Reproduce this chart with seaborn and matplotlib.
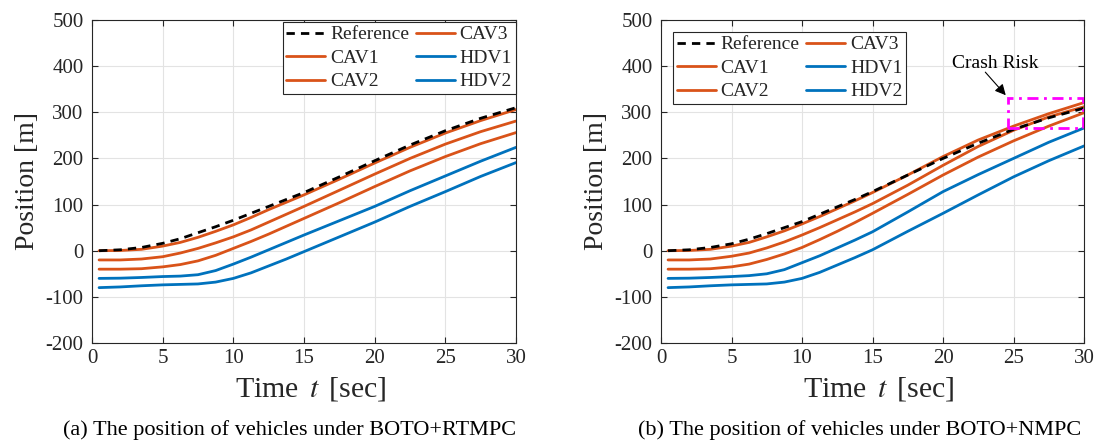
import numpy as np
import pandas as pd
import matplotlib
matplotlib.use("Agg")
import matplotlib.pyplot as plt
import seaborn as sns
from matplotlib.patches import Rectangle

# ---------------- data ----------------
time = [0.5, 2, 3.5, 5, 6.25, 7.5, 8.75, 10, 11.25, 12.5, 13.75, 15,
        17.5, 20, 22.5, 25, 27.5, 30]

# (a) BOTO+RTMPC
a_ref  = [0, 2, 7, 16, 26, 39, 52, 66, 81, 96, 111, 126, 160, 195, 229, 260, 287, 310]
a_cav1 = [0, 0.5, 3, 10, 18, 29, 42, 56, 72, 89, 105, 121, 155, 190, 224, 255, 282, 306]
a_cav2 = [-20, -20, -18, -13, -5, 5, 17, 30, 45, 62, 79, 96, 131, 166, 200, 231, 258, 281]
a_cav3 = [-40, -40, -39, -35, -30, -22, -10, 5, 20, 36, 53, 70, 104, 139, 173, 204, 232, 256]
a_hdv1 = [-60, -59.5, -58, -56, -55, -52, -43, -29, -14, 2, 18, 34, 65, 96, 130, 162, 194, 224]
a_hdv2 = [-80, -78.5, -76, -74, -73, -72, -68, -60, -48, -33, -18, -2, 30, 62, 96, 128, 161, 191]

# (b) BOTO+NMPC
b_ref  = [0, 2, 7, 15, 25, 37, 50, 63, 79, 95, 111, 128, 164, 200, 233, 263, 288, 309]
b_cav1 = [0, 0.5, 3, 10, 18, 30, 43, 58, 74, 91, 108, 126, 164, 204, 240, 270, 297, 321]
b_cav2 = [-20, -20, -18, -12, -5, 6, 19, 34, 50, 67, 84, 102, 142, 185, 226, 261, 290, 312]
b_cav3 = [-40, -40, -39, -35, -29, -19, -7, 7, 24, 42, 61, 81, 122, 164, 203, 238, 270, 299]
b_hdv1 = [-60, -59.5, -58, -56, -54, -50, -41, -26, -11, 6, 23, 41, 84, 128, 165, 200, 235, 266]
b_hdv2 = [-80, -78.5, -76, -74, -73, -72, -68, -60, -47, -31, -15, 2, 42, 81, 121, 160, 195, 227]

labels = ["Reference", "CAV1", "CAV2", "CAV3", "HDV1", "HDV2"]
captions = ["(a) The position of vehicles under BOTO+RTMPC",
            "(b) The position of vehicles under BOTO+NMPC"]
xticks = [0, 5, 10, 15, 20, 25, 30]
yticks = [-200, -100, 0, 100, 200, 300, 400, 500]

# crash-risk box and annotation (data coords)
risk_x = [24.6, 29.9]
risk_y = [265, 330]
risk_text = "Crash Risk"
risk_text_xy = (23.7, 405)
risk_arrow_from = (23.0, 387)
risk_arrow_to = (24.45, 337)

# ---------------- style ----------------
sns.set_theme(style="whitegrid")
plt.rcParams['font.family'] = ['Liberation Serif', 'DejaVu Serif']
plt.rcParams['mathtext.fontset'] = 'stix'
plt.rcParams['axes.unicode_minus'] = False

ORANGE = "#D95319"
BLUE = "#0072BD"
AXC = "#262626"
colors = ["black", ORANGE, ORANGE, ORANGE, BLUE, BLUE]

fig = plt.figure(figsize=(10.96, 4.41), dpi=100)
ax1 = fig.add_axes([92/1096, (441-343)/441, 424/1096, 323/441])
ax2 = fig.add_axes([661/1096, (441-343)/441, 423/1096, 323/441])

panels = [
    (ax1, [a_ref, a_cav1, a_cav2, a_cav3, a_hdv1, a_hdv2]),
    (ax2, [b_ref, b_cav1, b_cav2, b_cav3, b_hdv1, b_hdv2]),
]

for ax, series in panels:
    order = [1, 2, 3, 4, 5, 0]   # Reference drawn last (on top)
    handles = {}
    for i in order:
        df = pd.DataFrame({"t": time, "pos": series[i]})
        sns.lineplot(data=df, x="t", y="pos", ax=ax, color=colors[i],
                     linewidth=2.0, estimator=None, sort=False)
        ln = ax.get_lines()[-1]
        ln.set_solid_joinstyle("round")
        if i == 0:
            ln.set_dashes([3, 2.2])
        handles[i] = ln
    ax.set_xlim(0, 30)
    ax.set_ylim(-200, 500)
    ax.set_xticks(xticks)
    ax.set_yticks(yticks)
    ax.set_xlabel("Time $\\,t\\,$ [sec]", fontsize=21.5, color=AXC, labelpad=0)
    ax.xaxis.set_label_coords(0.515, -0.098)
    ax.set_ylabel("Position [m]", fontsize=20, color=AXC, labelpad=4)
    ax.tick_params(axis="both", which="both", direction="in", length=4,
                   width=0.8, colors=AXC, labelsize=15, top=True, right=True,
                   bottom=True, left=True)
    ax.tick_params(axis="y", pad=6)
    ax.tick_params(axis="x", pad=4)
    ax.grid(True, color="#e3e3e3", linewidth=0.8)
    ax.set_facecolor("white")
    for s in ax.spines.values():
        s.set_visible(True)
        s.set_color(AXC)
        s.set_linewidth(0.8)
    hl = [handles[i] for i in range(6)]
    common = dict(ncol=2, fontsize=14, frameon=True, fancybox=False,
                  edgecolor=AXC, handlelength=2.0, handletextpad=0.25,
                  columnspacing=0.35, labelspacing=0.3, borderpad=0.2,
                  borderaxespad=0.0)
    if ax is ax1:
        leg = ax.legend(hl, labels, loc="upper right",
                        bbox_to_anchor=(1.0, 0.994), **common)
    else:
        leg = ax.legend(hl, labels, loc="upper left",
                        bbox_to_anchor=(0.028, 0.963), **common)
    leg.get_frame().set_linewidth(0.8)
    leg.get_frame().set_alpha(1.0)

# crash-risk annotation
rect = Rectangle((risk_x[0], risk_y[0]), risk_x[1] - risk_x[0],
                 risk_y[1] - risk_y[0], fill=False, edgecolor="#FF00FF",
                 linewidth=2.0, linestyle=(0, (4, 2, 1, 2)), zorder=5)
ax2.add_patch(rect)
ax2.text(risk_text_xy[0], risk_text_xy[1], risk_text, fontsize=14,
         ha="center", va="center", color="black")
ax2.annotate("", xy=risk_arrow_to, xytext=risk_arrow_from,
             arrowprops=dict(arrowstyle="-|>", color="black", lw=0.8,
                             shrinkA=0, shrinkB=0, mutation_scale=16))

fig.text(290/1096, 1 - 430/441, captions[0], fontsize=16, ha="center",
         va="center", color="black")
fig.text(860/1096, 1 - 430/441, captions[1], fontsize=16, ha="center",
         va="center", color="black")

fig.savefig("out.png", dpi=100, facecolor="white")
